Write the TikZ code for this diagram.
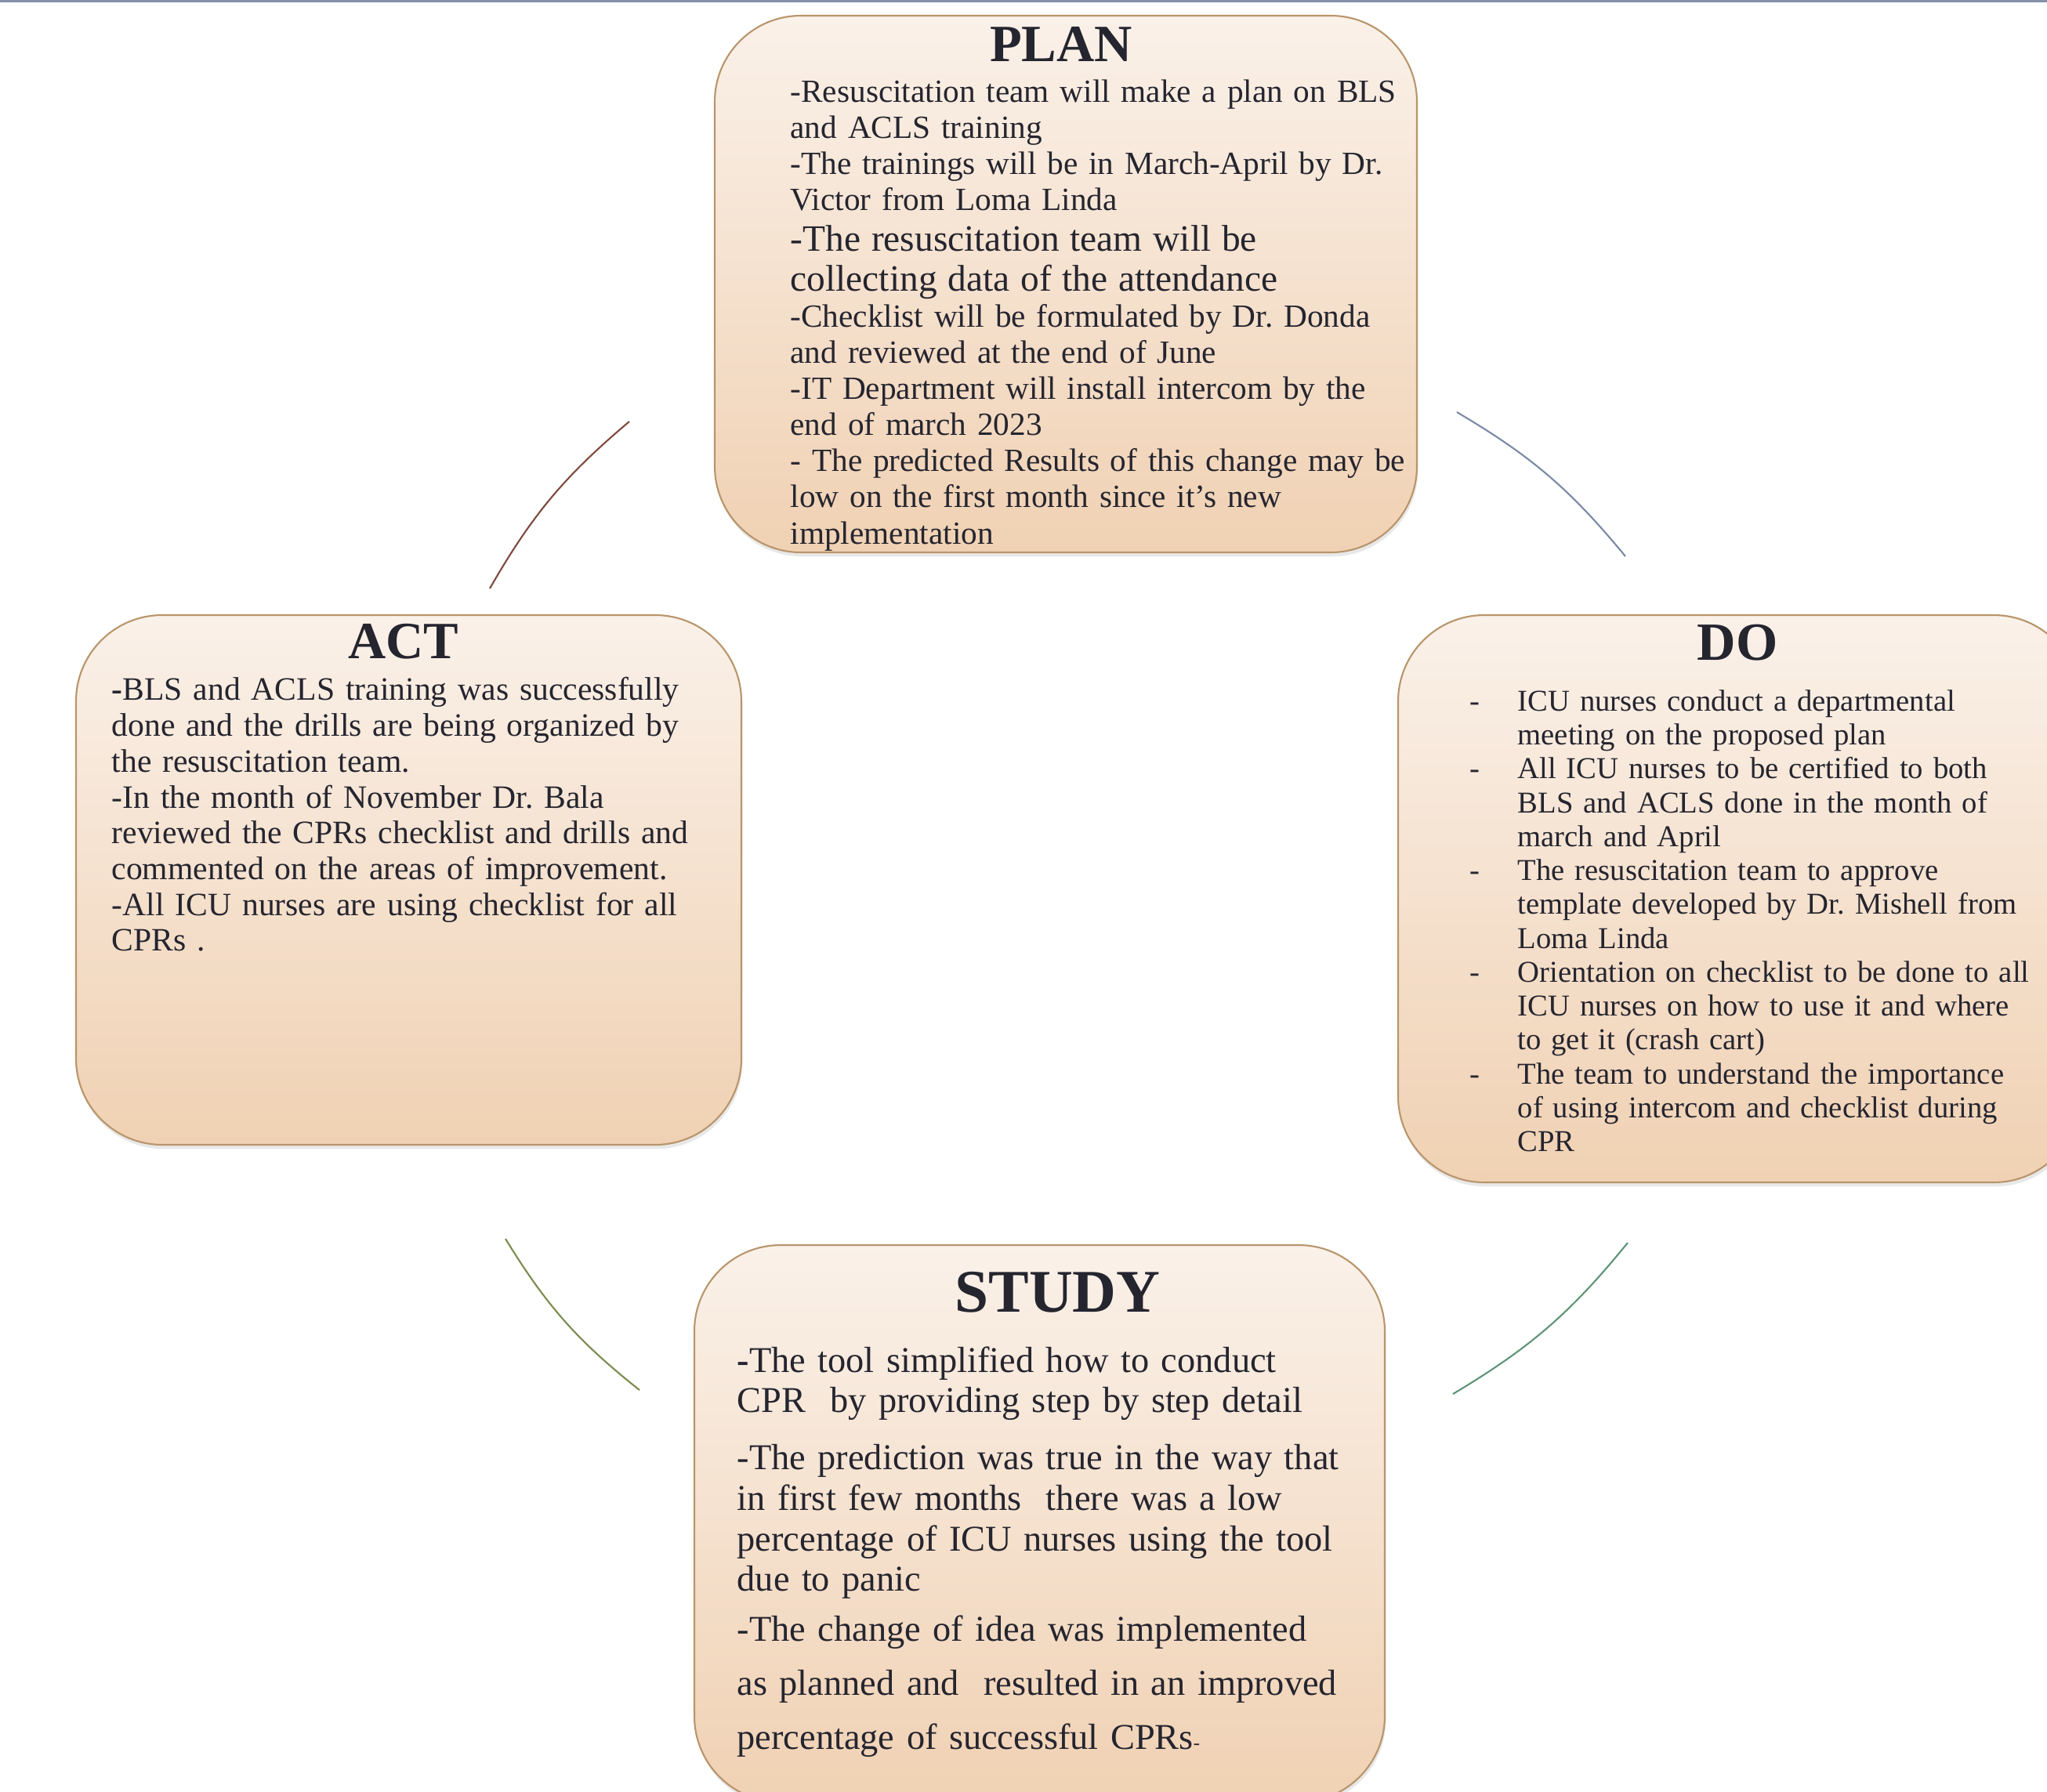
\documentclass[tikz,border=0pt]{standalone}
\usepackage{fontspec}
\setmainfont{Liberation Serif}
\frenchspacing
\definecolor{ink}{HTML}{25252F}
\definecolor{edge}{HTML}{B8956B}
\definecolor{peachtop}{HTML}{FAF1E9}
\definecolor{peachbottom}{HTML}{F0D1B3}
\definecolor{band}{HTML}{8592A8}
\definecolor{arcplan}{HTML}{7E4A3E}
\definecolor{arcdo}{HTML}{7A8AA5}
\definecolor{arcstudy}{HTML}{5E9478}
\definecolor{arcact}{HTML}{7A8C4E}
\usetikzlibrary{positioning,shadows}
\newcommand{\doitem}[1]{\hangindent=0.61cm\hangafter=1\makebox[0.61cm][l]{-}#1\par}

\begin{document}
\begin{tikzpicture}[
    phase/.style={draw=edge,line width=0.6pt,rounded corners=1.1cm,
      top color=peachtop,bottom color=peachbottom,
      drop shadow={shadow xshift=0.4pt,shadow yshift=-1.5pt,opacity=0.18},
      inner sep=0pt},
    phasehead/.style={text=ink,inner sep=0pt},
    phasebody/.style={text=ink,text width=8.4cm,align=left,inner sep=0pt},
    cyclearc/.style={line width=0.6pt,bend left=10}]
  \useasboundingbox (0,0) rectangle (26.12,-22.87);
  \fill[band] (0,0) rectangle (26.12,-0.03);

  % the four phases
  \node[phase,minimum width=8.96cm,minimum height=6.85cm] (plan) at (13.60,-3.625) {};
  \node[phase,minimum width=8.70cm,minimum height=7.24cm] (do) at (22.19,-11.47) {};
  \node[phase,minimum width=8.81cm,minimum height=7.11cm] (study) at (13.265,-19.445) {};
  \node[phase,minimum width=8.49cm,minimum height=6.76cm] (act) at (5.215,-11.23) {};

  \node[phasehead,font=\fontsize{19}{22}\selectfont\bfseries,
        below=0.15cm of plan.north,xshift=-0.06cm] (planhead) {PLAN};
  \node[phasehead,font=\fontsize{19.5}{22}\selectfont\bfseries,
        below=0.12cm of do.north,xshift=-0.02cm] (dohead) {DO};
  \node[phasehead,font=\fontsize{22}{25}\selectfont\bfseries,
        below=0.35cm of study.north,xshift=0.23cm] (studyhead) {STUDY};
  \node[phasehead,font=\fontsize{19}{22}\selectfont\bfseries,
        below=0.12cm of act.north,xshift=-0.07cm] (acthead) {ACT};

  \node[phasebody,font=\fontsize{11.75}{13.1}\selectfont,
        below right=0.82cm and 0.97cm of plan.north west] (planbody) {%
    -Resuscitation team will make a plan on BLS\\
    and ACLS training\\
    -The trainings will be in March-April by Dr.\\
    Victor from Loma Linda\par
    {\fontsize{13.5}{14.7}\selectfont -The resuscitation team will be\\
    collecting data of the attendance\par}
    -Checklist will be formulated by Dr. Donda\\
    and reviewed at the end of June\\
    -IT Department will install intercom by the\\
    end of march 2023\\
    - The predicted Results of this change may be\\
    low on the first month since it’s new\\
    implementation};

  \node[phasebody,font=\fontsize{11}{12.3}\selectfont,
        below right=0.96cm and 0.92cm of do.north west] (dobody) {%
    \doitem{ICU nurses conduct a departmental\newline meeting on the proposed plan}
    \doitem{All ICU nurses to be certified to both\newline BLS and ACLS done in the month of\newline march and April}
    \doitem{The resuscitation team to approve\newline template developed by Dr. Mishell from\newline Loma Linda}
    \doitem{Orientation on checklist to be done to all\newline ICU nurses on how to use it and where\newline to get it (crash cart)}
    \doitem{The team to understand the importance\newline of using intercom and checklist during\newline CPR}};

  \node[phasebody,font=\fontsize{13.2}{14.7}\selectfont,
        below right=1.30cm and 0.55cm of study.north west] (studybody) {%
    \textbf{-}The tool simplified how to conduct\\
    CPR\ \ by providing step by step detail\par
    \vspace{6pt}
    -The prediction was true in the way that\\
    in first few months\ \ there was a low\\
    percentage of ICU nurses using the tool\\
    due to panic\par
    \vspace{-1.6pt}
    {\baselineskip=19.7pt -The change of idea was implemented\\
    as planned and\ \ resulted in an improved\\
    percentage of successful CPRs{\fontsize{7}{8}\selectfont-}\par}};

  \node[phasebody,font=\fontsize{11.85}{13}\selectfont,
        below right=0.80cm and 0.46cm of act.north west] (actbody) {%
    \textbf{-}BLS and ACLS training was successfully\\
    done and the drills are being organized by\\
    the resuscitation team.\\
    -In the month of November Dr. Bala\\
    reviewed the CPRs checklist and drills and\\
    commented on the areas of improvement.\\
    -All ICU nurses are using checklist for all\\
    CPRs .};

  % arcs of the cycle
  \coordinate (ap1) at (6.25,-7.51);
  \coordinate (ap2) at (8.03,-5.38);
  \coordinate (pd1) at (18.59,-5.26);
  \coordinate (pd2) at (20.74,-7.10);
  \coordinate (ds1) at (20.77,-15.86);
  \coordinate (ds2) at (18.54,-17.79);
  \coordinate (sa1) at (8.16,-17.74);
  \coordinate (sa2) at (6.45,-15.81);
  \draw[cyclearc,arcplan] (ap1) to (ap2);
  \draw[cyclearc,arcdo] (pd1) to (pd2);
  \draw[cyclearc,arcstudy] (ds1) to (ds2);
  \draw[cyclearc,arcact] (sa1) to (sa2);
\end{tikzpicture}
\end{document}
